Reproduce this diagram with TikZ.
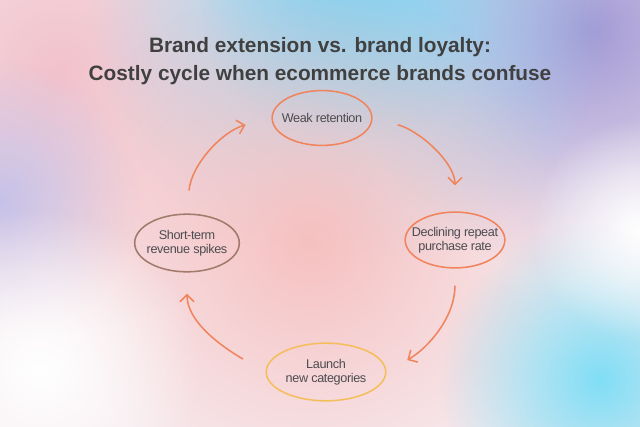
\documentclass[tikz,border=0pt]{standalone}
\usepackage{fontspec}
\setmainfont{Liberation Sans}
\newfontfamily\stagefont[LetterSpace=-3]{Liberation Sans}
\usepackage{xcolor}
\usetikzlibrary{shapes.geometric, arrows.meta, fadings, positioning}

\definecolor{coral}{HTML}{F0845C}
\definecolor{sand}{HTML}{F5BE5C}
\definecolor{cocoa}{HTML}{A07A6A}
\definecolor{ink}{HTML}{404040}
\definecolor{txtgray}{HTML}{4C4C50}
\definecolor{bgbase}{HTML}{F6EAEE}
\definecolor{bgpink}{HTML}{F2C2CC}
\definecolor{bgsky}{HTML}{8CD2F0}
\definecolor{bglilac}{HTML}{A39AD6}
\definecolor{bglav}{HTML}{C6C2E8}
\definecolor{bgrose}{HTML}{F7C0C0}
\definecolor{bgcyan}{HTML}{80DEF6}
\tikzfading[name=softglow, inner color=transparent!0, outer color=transparent!100]

\begin{document}
\begin{tikzpicture}[x=0.025cm, y=-0.025cm, >={Straight Barb[length=5pt, width=10pt]},
    stage/.style={ellipse, draw, line width=1.1pt, inner xsep=-14pt, inner ysep=-8pt,
        align=center, text=txtgray, font=\stagefont\fontsize{9}{10}\selectfont},
    cyc/.style={->, draw=coral, line width=1.1pt},
    glow/.style={path fading=softglow}]
    % Fundal
    \useasboundingbox (0,0) rectangle (640,427);
    \clip (0,0) rectangle (640,427);
    \fill[bgbase] (0,0) rectangle (640,427);
    \fill[glow, bgpink] (60,70) circle (260);
    \fill[glow, bglilac] (590,30) circle (250);
    \fill[glow, bgsky] (350,10) circle (260);
    \fill[glow, bgsky] (350,0) circle (150);
    \fill[glow, bglav] (0,200) circle (140);
    \fill[glow, bgrose] (310,240) circle (260);
    \fill[glow, bgcyan] (600,380) circle (160);
    \fill[glow, white] (40,370) circle (160);
    \fill[glow, white] (640,230) circle (110);

    % Titlu
    \node[font=\bfseries\fontsize{14.8}{19.8}\selectfont, text=ink, align=center] (title) at (320,61)
        {Brand extension vs. brand loyalty:\\Costly cycle when ecommerce brands confuse};

    % Noduri
    \node[stage, draw=coral, minimum width=70.9pt, minimum height=39pt] (wr) at (322,118) {Weak retention};
    \node[stage, draw=coral, minimum width=70.9pt, minimum height=39.7pt] (dr) at (455,240) {Declining repeat\\purchase rate};
    \node[stage, draw=sand, minimum width=85pt, minimum height=41pt] (lc) at (326,372) {Launch\\new categories};
    \node[stage, draw=cocoa, minimum width=74.4pt, minimum height=41pt] (ss) at (187,243) {Short-term\\revenue spikes};

    % Muchii
    \draw[cyc, shorten <=18.4pt, shorten >=18.4pt] (wr.east) to[out=-15, in=90] (dr.north);
    \draw[cyc, shorten <=12pt, shorten >=17pt] (dr.south) to[out=-90, in=30] (lc.east);
    \draw[cyc, shorten <=18.4pt, shorten >=15pt] (lc.west) to[out=150, in=-90] (ss.south);
    \draw[cyc, shorten <=16.3pt, shorten >=19pt] (ss.north) to[out=85, in=195] (wr.west);
\end{tikzpicture}
\end{document}
